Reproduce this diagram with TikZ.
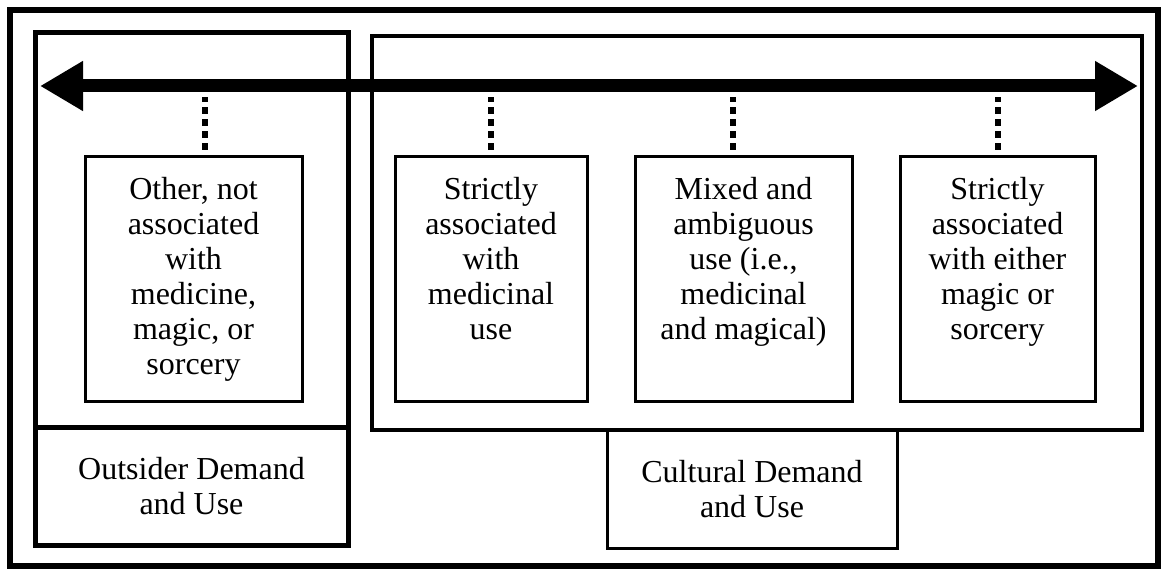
\documentclass[tikz,border=0pt]{standalone}
\usepackage{fontspec}
\setmainfont{Liberation Serif}
\usetikzlibrary{arrows.meta}

\newcommand{\boxfont}{\fontsize{16pt}{17.5pt}\selectfont}
\newcommand{\boxtext}[2]{\parbox[t][122.5pt][t]{#1}{\centering\rule{0pt}{21.5pt}#2}}

\begin{document}
\begin{tikzpicture}[x=0.5pt,y=-0.5pt,
    zone/.style={draw,line width=#1,inner sep=0pt},
    catbox/.style={draw,line width=1.5pt,inner sep=0pt,anchor=north,font=\boxfont},
    labelbox/.style={draw,line width=#1,inner sep=0pt,align=center,font=\boxfont,minimum height=59pt},
    dotline/.style={line width=3pt,dash pattern=on 3.5pt off 2.5pt,shorten <=2.5pt,shorten >=5.5pt},
    bigtip/.tip={Triangle[length=21.5pt,width=23.5pt]}]
  \useasboundingbox (0,0) rectangle (1168,577);
  \draw[line width=3pt] (10,10) rectangle (1158,566);
  % the two zones and their labels
  \node[zone=2.5pt,minimum width=156.5pt,minimum height=197pt] (outzone) at (191.5,230) {};
  \node[labelbox=2.5pt,minimum width=156.5pt] (outsider) at (191.5,486) {Outsider Demand\\and Use};
  \node[zone=1.75pt,minimum width=385pt,minimum height=197pt] (culzone) at (757,233) {};
  \node[labelbox=1.5pt,minimum width=145pt] (cultural) at (752,489) {Cultural Demand\\and Use};
  % categories
  \node[catbox] (other) at (193.5,155) {\boxtext{108.5pt}{Other, not\\associated\\with\\medicine,\\magic, or\\sorcery}};
  \node[catbox] (medicinal) at (491,155) {\boxtext{96pt}{Strictly\\associated\\with\\medicinal\\use}};
  \node[catbox] (mixed) at (743.5,155) {\boxtext{108.5pt}{Mixed and\\ambiguous\\use (i.e.,\\medicinal\\and magical)}};
  \node[catbox] (magic) at (997.5,155) {\boxtext{97.5pt}{Strictly\\associated\\with either\\magic or\\sorcery}};
  \coordinate (west) at (40,86);
  \coordinate (east) at (1138,86);
  \draw[line width=6.5pt,bigtip-bigtip] (west) -- (east);
  \foreach \n/\dx in {other/5.75pt,medicinal/0pt,mixed/-5.25pt,magic/0pt} {
    \draw[dotline] ([xshift=\dx]\n.north) -- ([xshift=\dx]\n.north |- west);
  }
\end{tikzpicture}
\end{document}
